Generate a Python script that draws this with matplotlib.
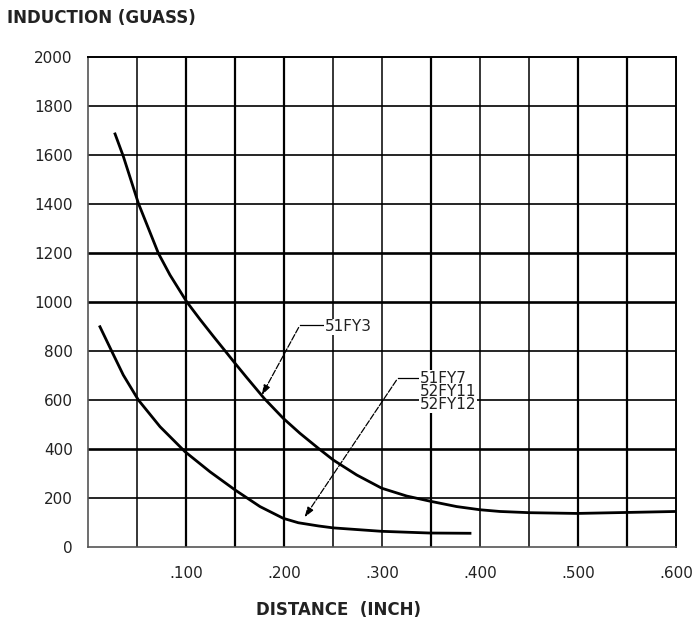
import matplotlib
matplotlib.use("Agg")
import matplotlib.pyplot as plt

# ---- data ----
fy3_x = [0.0276, 0.036, 0.0514, 0.0718, 0.0837, 0.1007, 0.1143, 0.1279, 0.139, 0.15, 0.1619,
         0.1799, 0.1993, 0.2163, 0.235, 0.2503, 0.2742, 0.2997, 0.3252, 0.349, 0.3762, 0.40,
         0.4204, 0.451, 0.4987, 0.5497, 0.60]
fy3_y = [1686, 1595, 1403, 1199, 1110, 1001, 929, 860, 805, 750, 692,
         606, 525, 464, 403, 355, 294, 240, 208, 187, 165, 152,
         145, 140, 137, 141, 145]

fy7_x = [0.0122, 0.0241, 0.036, 0.0514, 0.0735, 0.099, 0.1245, 0.15, 0.1755, 0.1993,
         0.2146, 0.235, 0.2503, 0.2997, 0.349, 0.3898]
fy7_y = [899, 800, 702, 600, 491, 389, 307, 233, 165, 117,
         99, 86, 78, 64, 57, 56]

xtick_vals = [0.1, 0.2, 0.3, 0.4, 0.5, 0.6]
xtick_labels = [".100", ".200", ".300", ".400", ".500", ".600"]
ytick_vals = [0, 200, 400, 600, 800, 1000, 1200, 1400, 1600, 1800, 2000]
ytick_labels = ["0", "200", "400", "600", "800", "1000", "1200", "1400", "1600", "1800", "2000"]

label_fy3 = "51FY3"
label_fy7 = "51FY7\n52FY11\n52FY12"

fig = plt.figure(figsize=(6.99, 6.21), dpi=100)
ax = fig.add_axes([88/699, 74/621, (676-88)/699, (564-74)/621])
ax.set_xlim(0, 0.6)
ax.set_ylim(0, 2000)

# grid
for i in range(1, 12):
    xv = i * 0.05
    lw = 1.6 if i in (2, 3, 4, 7, 10, 11) else 1.1
    ax.axvline(xv, color="black", lw=lw, zorder=1)
for yv in range(200, 2000, 200):
    lw = 1.9 if yv in (400, 1000, 1200) else 1.2
    ax.axhline(yv, color="black", lw=lw, zorder=1)

for s in ("top", "right"):
    ax.spines[s].set_linewidth(1.4)
    ax.spines[s].set_color("black")
for s in ("left", "bottom"):
    ax.spines[s].set_linewidth(1.2)
    ax.spines[s].set_color("#555555")

ax.plot(fy3_x, fy3_y, color="black", lw=2.0, zorder=3, solid_joinstyle="round")
ax.plot(fy7_x, fy7_y, color="black", lw=2.0, zorder=3, solid_joinstyle="round")

ax.set_xticks(xtick_vals)
ax.set_xticklabels(xtick_labels)
ax.set_yticks(ytick_vals)
ax.set_yticklabels(ytick_labels)
ax.tick_params(axis="both", length=0, labelsize=11, colors="#222222")
ax.tick_params(axis="x", pad=14)
ax.tick_params(axis="y", pad=11)

# annotations with leader lines
arrow_kw = dict(arrowstyle="-|>,head_length=0.6,head_width=0.2",
                color="black", lw=0.9, linestyle=(0, (5, 1.5)))
ax.plot([0.2163, 0.2397], [906, 906], color="black", lw=0.9, zorder=4)
ax.annotate("", xy=(0.176, 610), xytext=(0.2163, 906), arrowprops=arrow_kw, zorder=4)
ax.text(0.2418, 898, label_fy3, fontsize=11, va="center", ha="left", color="#222222",
        bbox=dict(facecolor="white", edgecolor="none", pad=0.5), zorder=5)

ax.plot([0.3163, 0.3378], [690, 690], color="black", lw=0.9, zorder=4)
ax.annotate("", xy=(0.2194, 112), xytext=(0.3163, 690), arrowprops=arrow_kw, zorder=4)
ax.text(0.3388, 718, label_fy7, fontsize=11, va="top", ha="left", color="#222222",
        linespacing=0.85, bbox=dict(facecolor="white", edgecolor="none", pad=0.5), zorder=5)

fig.text(7/699, 1 - 18/621, "INDUCTION (GUASS)", fontsize=12, fontweight="bold",
         ha="left", va="center", color="#222222")
fig.text(338/699, 1 - 610/621, "DISTANCE  (INCH)", fontsize=12, fontweight="bold",
         ha="center", va="center", color="#222222")

fig.savefig("out.png", dpi=100, facecolor="white")
